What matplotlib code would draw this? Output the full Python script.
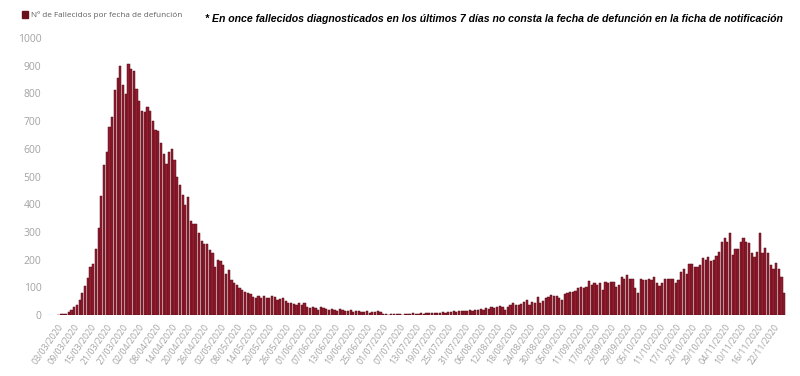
import matplotlib
matplotlib.use("Agg")
import matplotlib.pyplot as plt
import pandas as pd

# daily deaths by date of death, 03/03/2020 .. 26/11/2020
fechas = pd.date_range("2020-03-03", "2020-11-26", freq="D")

marzo_abril = [2, 3, 3, 5, 10, 17, 28, 38, 55, 78, 105, 135, 172, 185, 240, 315, 430, 540, 590, 680,
               715, 812, 855, 900, 830, 798, 906, 888, 882, 815, 773, 735, 734, 750, 737, 700, 669, 665, 620, 581,
               545, 590, 600, 560, 500, 470, 433, 397, 425, 340, 330, 328, 295, 268, 258, 256, 235, 223, 175, 199]
mayo_junio = [196, 180, 150, 162, 126, 117, 108, 96, 90, 84, 81, 76, 66, 60, 69, 60, 69, 60, 63, 70,
              66, 54, 57, 63, 51, 42, 42, 40, 36, 45, 36, 42, 30, 24, 30, 24, 18, 30, 27, 21,
              20, 22, 18, 15, 22, 18, 15, 14, 18, 12, 16, 14, 10, 12, 15, 8, 12, 10, 14, 12]
julio_agosto = [3, 4, 2, 5, 3, 4, 3, 2, 4, 5, 3, 6, 4, 5, 6, 5, 7, 6, 8, 7,
                8, 9, 10, 8, 12, 11, 13, 12, 15, 14, 16, 13, 18, 15, 20, 17, 22, 19, 25, 22,
                28, 24, 30, 32, 28, 20, 28, 36, 42, 36, 36, 40, 48, 54, 36, 48, 45, 64, 42, 52]
sept_oct = [60, 66, 72, 69, 69, 60, 54, 76, 81, 84, 84, 88, 96, 100, 96, 102, 123, 108, 114, 108,
            114, 90, 120, 114, 120, 120, 102, 108, 136, 129, 144, 129, 132, 96, 81, 129, 126, 126, 129, 126,
            138, 114, 105, 114, 132, 129, 129, 129, 114, 126, 156, 165, 150, 184, 184, 174, 174, 180, 205, 199]
noviembre = [208, 196, 199, 213, 229, 265, 277, 265, 295, 217, 237, 237, 265, 277, 265, 259, 225, 211, 229, 297,
             225, 241, 225, 180, 165, 189, 168, 138, 78]

fallecidos = marzo_abril + mayo_junio + julio_agosto + sept_oct + noviembre

yticks = list(range(0, 1001, 100))
paso_etiquetas = 6

etiqueta_serie = "Nº de Fallecidos por fecha de defunción"
nota = ("* En once fallecidos diagnosticados en los últimos 7 días no consta "
        "la fecha de defunción en la ficha de notificación")

rojo = "#931c2e"
gris = "#a3a3a3"

fig = plt.figure(figsize=(8, 3.76), dpi=100)
ax = fig.add_axes([0.0708, 0.162, 0.9112, 0.737])

x = list(range(len(fallecidos)))
ax.bar(x, fallecidos, width=0.82, color=rojo, edgecolor="#560e1a", linewidth=0.35)

ax.set_xlim(-0.5, len(fallecidos) - 0.5)
ax.set_ylim(0, 1000)
ax.set_yticks(yticks)
ax.set_yticklabels([str(v) for v in yticks], fontsize=7.5, color=gris, family="Open Sans")

pos = x[::paso_etiquetas]
ax.set_xticks(pos)
ax.set_xticklabels([fechas[i].strftime("%d/%m/%Y") for i in pos], rotation=55,
                   ha="right", rotation_mode="anchor", fontsize=6.4, color=gris, family="Open Sans")
ax.tick_params(axis="both", length=0)
ax.tick_params(axis="x", pad=5)
ax.tick_params(axis="y", pad=11)
for s in ax.spines.values():
    s.set_visible(False)

# legend
fig.patches.append(plt.Rectangle((22 / 800, 1 - 18 / 376), 6 / 800, 7 / 376,
                                 transform=fig.transFigure, color="#6a0f1c", figure=fig))
fig.text(31 / 800, 1 - 15 / 376, etiqueta_serie, fontsize=5.9, color="#606060",
         va="center", family="Open Sans")

# note
fig.text(783 / 800, 1 - 19 / 376, nota, fontsize=7.6, color="black", ha="right", va="center",
         fontweight="bold", fontstyle="italic", family="Liberation Sans")

fig.savefig("out.png", dpi=100)
